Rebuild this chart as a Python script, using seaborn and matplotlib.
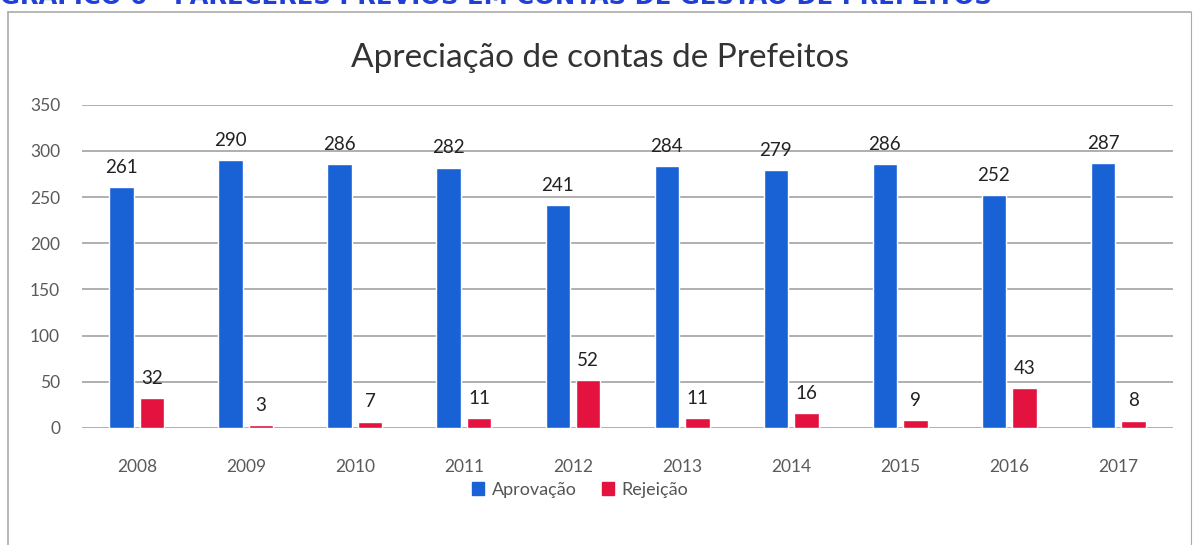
import matplotlib.pyplot as plt
import pandas as pd
import seaborn as sns
from matplotlib.lines import Line2D

# values
anos = ["2008", "2009", "2010", "2011", "2012", "2013", "2014", "2015", "2016", "2017"]
aprovacao = [261, 290, 286, 282, 241, 284, 279, 286, 252, 287]
rejeicao = [32, 3, 7, 11, 52, 11, 16, 9, 43, 8]
series = ["Aprovação", "Rejeição"]
yticks = [0, 50, 100, 150, 200, 250, 300, 350]

df = pd.DataFrame({
    "ano": anos * 2,
    "valor": aprovacao + rejeicao,
    "tipo": [series[0]] * len(anos) + [series[1]] * len(anos),
})

sns.set_style("white")
plt.rcParams["font.family"] = ["Lato", "DejaVu Sans"]

fig = plt.figure(figsize=(11.93, 5.45), dpi=100)
ax = fig.add_axes([0.069, 0.2147, 0.914, 0.593])

sns.barplot(
    data=df, x="ano", y="valor", hue="tipo",
    palette=["#1862d6", "#e3123f"], width=0.56, gap=0.2,
    saturation=1, ax=ax, legend=False,
)

for cont in ax.containers:
    ax.bar_label(cont, padding=8, fontsize=13.5, color="#222222")

ax.set_ylim(0, 350)
ax.set_yticks(yticks)
ax.set_xlim(-0.5, len(anos) - 0.5)
ax.set_xlabel("")
ax.set_ylabel("")
ax.grid(axis="y", color="#9a9a9a", linewidth=1.1)
ax.set_axisbelow(True)
for s in ax.spines.values():
    s.set_visible(False)
ax.tick_params(axis="x", pad=22, labelsize=12.5, labelcolor="#5a5a5a", length=0)
ax.tick_params(axis="y", pad=16, labelsize=12.5, labelcolor="#5a5a5a", length=0)

# title
fig.text(0.503, 1 - 58 / 545, "Apreciação de contas de Prefeitos",
         ha="center", va="center", fontsize=24, color="#333333")

# legend
handles = [plt.Rectangle((0, 0), 1, 1, color=c) for c in ["#1862d6", "#e3123f"]]
fig.legend(handles, series, loc="center", bbox_to_anchor=(580 / 1193, 1 - 490 / 545),
           ncol=2, frameon=False, fontsize=13, handlelength=0.7, handleheight=0.7,
           handletextpad=0.4, columnspacing=1.4, labelcolor="#555555")

# chart frame
fc = "#aaaaaa"
x0, x1, yt = 8 / 1193, 1191 / 1193, 1 - 12 / 545
fig.add_artist(Line2D([x0, x1], [yt, yt], color=fc, lw=1.2))
fig.add_artist(Line2D([x0, x0], [0, yt], color=fc, lw=1.2))
fig.add_artist(Line2D([x1, x1], [0, yt], color=fc, lw=0.8))

# heading of the page, cut at the top as in the scan
fig.text(0.0, 1 - 4 / 545, "GRÁFICO 6 - PARECERES PRÉVIOS EM CONTAS DE GESTÃO DE PREFEITOS",
         ha="left", va="baseline", fontsize=17.5, fontweight="bold", color="#1f3fd6",
         family=["DejaVu Sans"])

fig.savefig("out.png", dpi=100)
